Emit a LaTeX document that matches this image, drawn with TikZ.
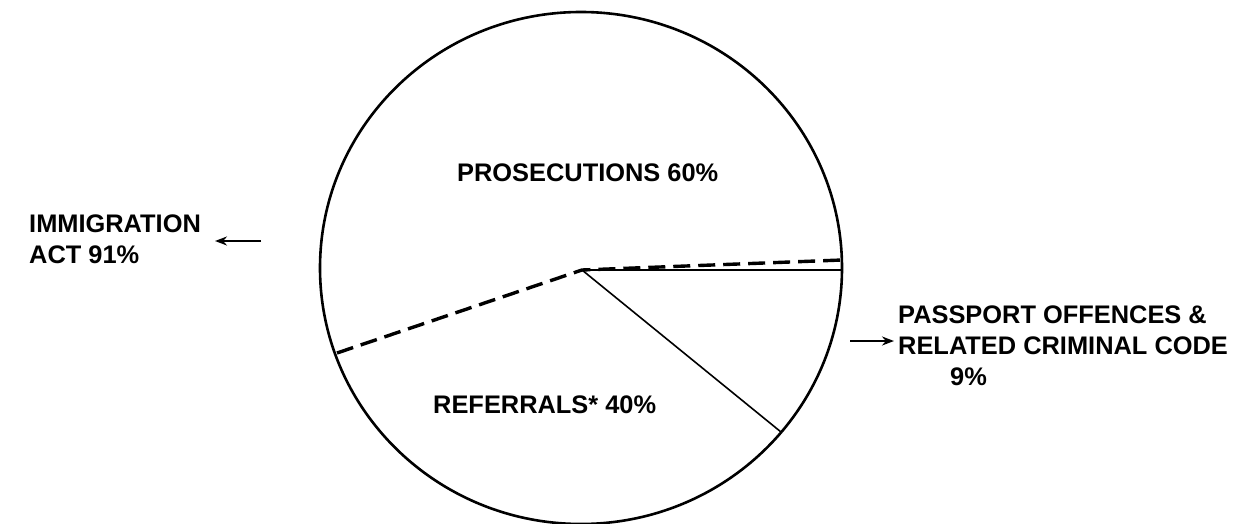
\documentclass[tikz,border=0pt]{standalone}
\usepackage{fontspec}
\setmainfont{Liberation Sans}
\usetikzlibrary{arrows.meta}
\begin{document}
\begin{tikzpicture}[x=1pt,y=-1pt,
  rim/.style={line width=2.6pt},
  sector/.style={line width=1.6pt},
  splitline/.style={line width=3.4pt,dash pattern=on 17pt off 8pt},
  lbl/.style={font=\fontsize{25.4}{31}\selectfont\bfseries,inner sep=0pt,align=left},
  pointer/.style={line width=2pt,-{Stealth[length=12pt,width=9pt]}}]
  \useasboundingbox (0,0) rectangle (1257,524);
  % the pie
  \coordinate (c) at (582,270);
  \draw[rim] (581,268) ellipse [x radius=261, y radius=256];
  \coordinate (pL) at (337,353);
  \coordinate (pR) at (842,260);
  \coordinate (sR) at (842,270);
  \coordinate (sD) at (781,432);
  % prosecutions / referrals split
  \draw[splitline] (pL) -- (c) -- (pR);
  % passport offences sector
  \draw[sector] (sR) -- (c) -- (sD);
  % labels
  \node[lbl,anchor=base west] (pros) at (457,181) {PROSECUTIONS 60\%};
  \node[lbl,anchor=base west] (ref) at (433,413) {REFERRALS* 40\%};
  \node[lbl,anchor=north west] (imm) at (29,215) {IMMIGRATION\\ACT 91\%};
  \node[lbl,anchor=north west] (pass) at (898,306) {PASSPORT OFFENCES \&\\RELATED CRIMINAL CODE\\\hspace*{52pt}9\%};
  % pointers
  \coordinate (a1) at (261,241);
  \coordinate (a2) at (215,241);
  \coordinate (b1) at (850,341);
  \coordinate (b2) at (894,341);
  \draw[pointer] (a1) -- (a2);
  \draw[pointer] (b1) -- (b2);
\end{tikzpicture}
\end{document}
